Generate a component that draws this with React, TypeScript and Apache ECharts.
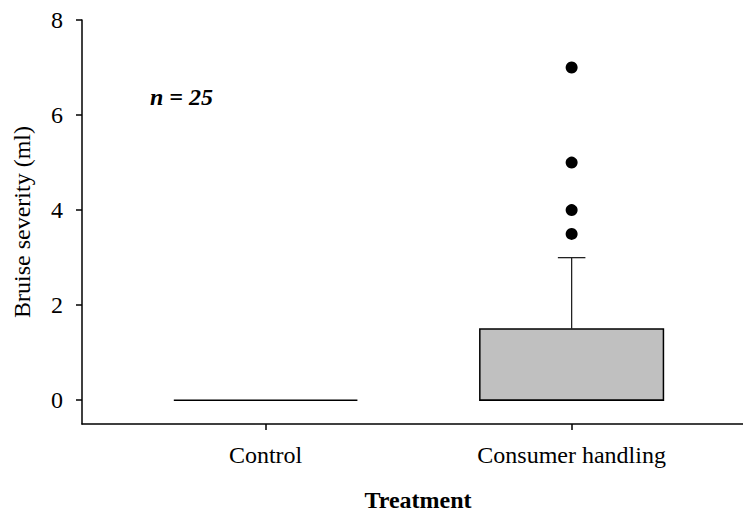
import React, { useEffect, useRef } from "react";
import * as echarts from "echarts";

const categories = ["Control", "Consumer handling"];
const categoryPositions = [0, 1];
const boxMin = [0, 0];
const boxQ1 = [0, 0];
const boxMedian = [0, 0];
const boxQ3 = [0, 1.5];
const boxMax = [0, 3];
const outlierCategory = [1, 1, 1, 1];
const outlierValues = [7, 5, 4, 3.5];
const yTicks = [0, 2, 4, 6, 8];
const sampleNote = "n = 25";

const FONT = "Liberation Serif";

export default function App() {
  const ref = useRef<HTMLDivElement>(null);
  useEffect(() => {
    if (!ref.current) return;
    const chart = echarts.init(ref.current, null, { renderer: "svg" });
    const boxData = categoryPositions.map((p, i) => [
      p,
      boxMin[i],
      boxQ1[i],
      boxMedian[i],
      boxQ3[i],
      boxMax[i],
    ]);
    const outlierData = outlierCategory.map((c, i) => [c, outlierValues[i]]);

    const option: any = {
      animation: false,
      backgroundColor: "#ffffff",
      title: {
        text: sampleNote,
        left: 150,
        top: 85,
        padding: 0,
        textStyle: {
          fontFamily: FONT,
          fontStyle: "italic",
          fontWeight: "bold",
          fontSize: 24,
          color: "#000",
        },
      },
      grid: {
        left: 82,
        right: 0,
        top: 20,
        bottom: 89,
        containLabel: false,
        outerBoundsMode: "none",
      },
      xAxis: {
        type: "value",
        min: -0.6,
        max: 1.56,
        name: "Treatment",
        nameLocation: "middle",
        nameGap: 64,
        nameTextStyle: {
          fontFamily: FONT,
          fontWeight: "bold",
          fontSize: 24,
          color: "#000",
          padding: [0, 0, 0, 11],
        },
        axisLine: { show: true, onZero: false, lineStyle: { color: "#000", width: 1.5 } },
        axisTick: {
          show: true,
          inside: false,
          length: 6,
          customValues: categoryPositions,
          lineStyle: { color: "#000", width: 1.5 },
        },
        axisLabel: {
          customValues: categoryPositions,
          formatter: (v: number) => categories[Math.round(v)] ?? "",
          fontFamily: FONT,
          fontSize: 24,
          color: "#000",
          margin: 19,
        },
        splitLine: { show: false },
      },
      yAxis: {
        type: "value",
        min: -0.5,
        max: 8,
        name: "Bruise severity (ml)",
        nameLocation: "middle",
        nameGap: 48,
        nameTextStyle: { fontFamily: FONT, fontSize: 24, color: "#000" },
        axisLine: { show: true, onZero: false, lineStyle: { color: "#000", width: 1.5 } },
        axisTick: {
          show: true,
          inside: false,
          length: 6,
          customValues: yTicks,
          lineStyle: { color: "#000", width: 1.5 },
        },
        axisLabel: {
          customValues: yTicks,
          fontFamily: FONT,
          fontSize: 24,
          color: "#000",
          margin: 19,
        },
        splitLine: { show: false },
      },
      series: [
        {
          type: "custom",
          data: boxData,
          encode: { x: 0, y: [1, 2, 3, 4, 5] },
          renderItem: (params: any, api: any) => {
            const x = api.value(0);
            const vMin = api.value(1);
            const vQ1 = api.value(2);
            const vMed = api.value(3);
            const vQ3 = api.value(4);
            const vMax = api.value(5);
            const band = api.size([1, 0])[0];
            const boxW = band * 0.6;
            const capW = band * 0.09;
            const cx = api.coord([x, vMed])[0];
            const yMin = api.coord([x, vMin])[1];
            const yQ1 = api.coord([x, vQ1])[1];
            const yMed = api.coord([x, vMed])[1];
            const yQ3 = api.coord([x, vQ3])[1];
            const yMax = api.coord([x, vMax])[1];
            const lineStyle = { stroke: "#000", lineWidth: 1.5 };
            const children: any[] = [];
            if (vQ3 > vQ1) {
              children.push({
                type: "rect",
                shape: { x: cx - boxW / 2, y: yQ3, width: boxW, height: yQ1 - yQ3 },
                style: { fill: "#c0c0c0", stroke: "#000", lineWidth: 1.5 },
              });
            }
            children.push({
              type: "line",
              shape: { x1: cx - boxW / 2, y1: yMed, x2: cx + boxW / 2, y2: yMed },
              style: lineStyle,
            });
            if (vMax > vQ3) {
              children.push({
                type: "line",
                shape: { x1: cx, y1: yQ3, x2: cx, y2: yMax },
                style: { stroke: "#222", lineWidth: 1.3 },
              });
              children.push({
                type: "line",
                shape: { x1: cx - capW / 2, y1: yMax, x2: cx + capW / 2, y2: yMax },
                style: { stroke: "#222", lineWidth: 1.3 },
              });
            }
            if (vMin < vQ1) {
              children.push({
                type: "line",
                shape: { x1: cx, y1: yQ1, x2: cx, y2: yMin },
                style: { stroke: "#222", lineWidth: 1.3 },
              });
              children.push({
                type: "line",
                shape: { x1: cx - capW / 2, y1: yMin, x2: cx + capW / 2, y2: yMin },
                style: { stroke: "#222", lineWidth: 1.3 },
              });
            }
            return { type: "group", children };
          },
        },
        {
          type: "scatter",
          data: outlierData,
          symbol: "circle",
          symbolSize: 12,
          itemStyle: { color: "#000", opacity: 1 },
        },
      ],
    };
    chart.setOption(option);
    return () => chart.dispose();
  }, []);
  return (
    <div
      ref={ref}
      style={{ position: "fixed", left: 0, top: 0, width: 743, height: 513 }}
    />
  );
}
